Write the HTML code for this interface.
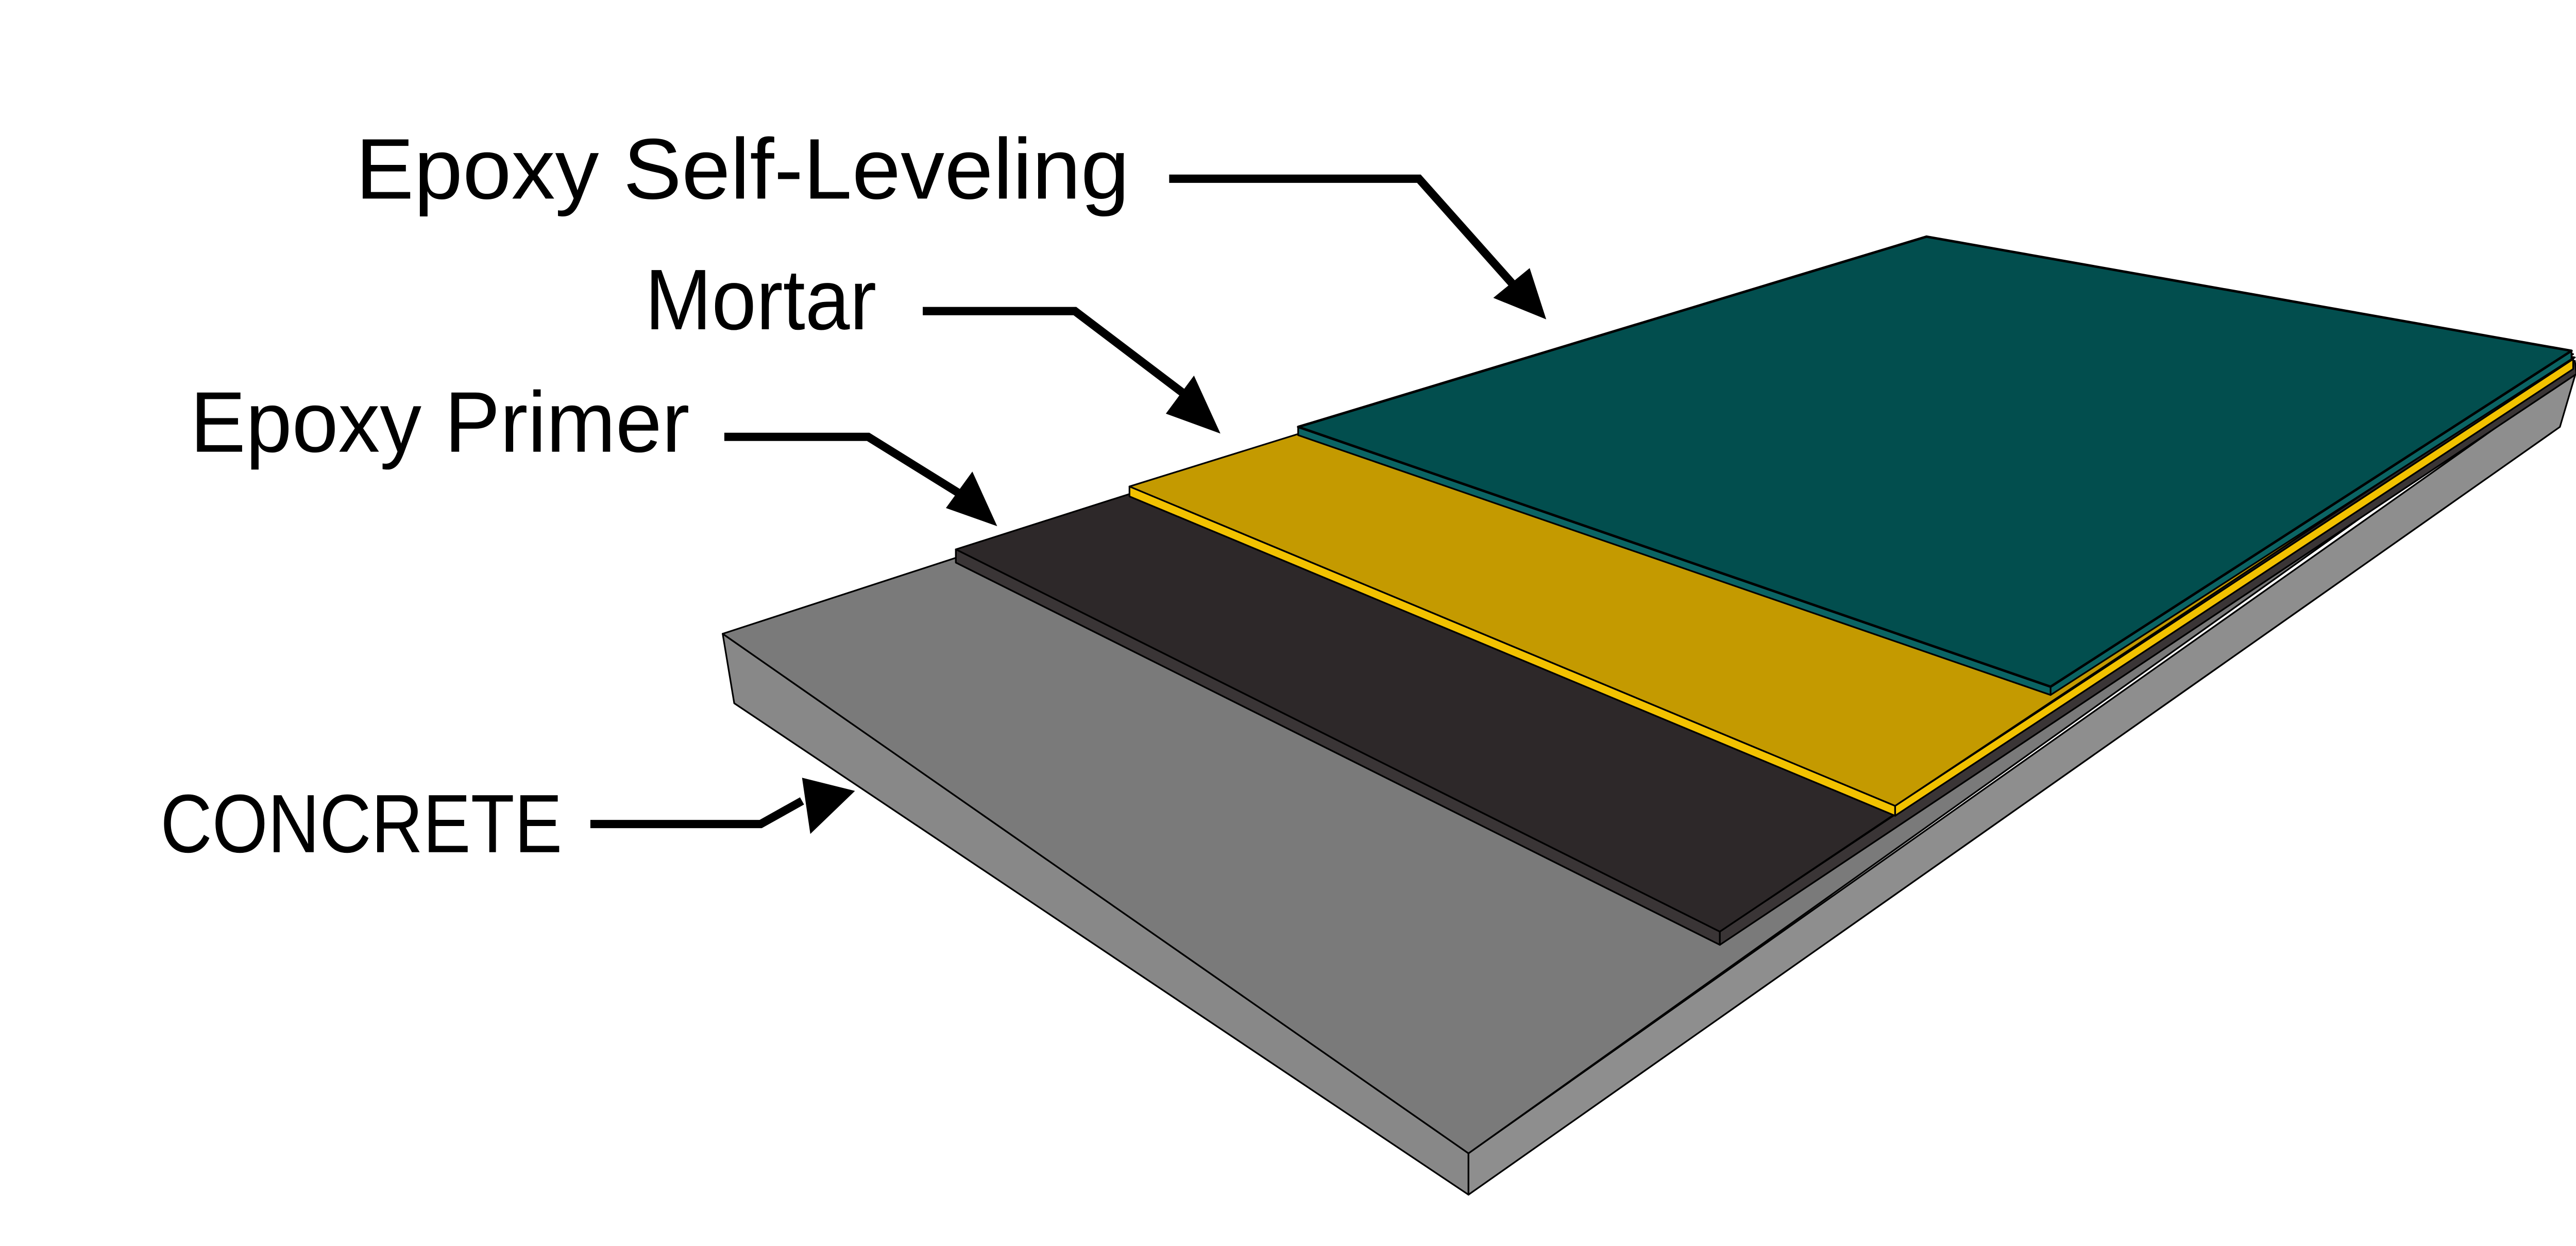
<!DOCTYPE html>
<html><head><meta charset="utf-8"><style>
html,body{margin:0;padding:0;background:#fff;}
svg{display:block;}
text{font-family:"Liberation Sans",sans-serif;fill:#000;}
</style></head><body>
<svg width="5033" height="2418" viewBox="0 0 1568 753" preserveAspectRatio="none" xmlns="http://www.w3.org/2000/svg">
<rect width="1568" height="753" fill="#fff"/>
<g stroke="#000" stroke-width="1" stroke-linejoin="round">
<!-- concrete -->
<polygon points="437,383 888,697 888,722 444,425" fill="#888888"/>
<polygon points="888,697 1558,224 1548,258 888,722" fill="#8e8e8e"/>
<polygon points="437,383 1165,146 1558,220 888,697" fill="#7a7a7a"/>
<!-- black primer -->
<polygon points="578,332 1040,563 1040,571 578,340" fill="#3a3536"/>
<polygon points="1040,563 1557,218 1558,226 1040,571" fill="#3a3536"/>
<polygon points="578,332 1165,145 1557,216 1040,563" fill="#2d2829"/>
<!-- yellow mortar -->
<polygon points="683,294 1146,487 1146,493 683,300" fill="#f2c200"/>
<polygon points="1146,487 1556,217 1556,223 1146,493" fill="#f2c200"/>
<polygon points="683,294 1165,144 1556,214 1146,487" fill="#c49a00"/>
<!-- green -->
<polygon points="785,258 1240,415 1240,420 785,263" fill="#0b6464"/>
<polygon points="1240,415 1555,212 1555,217 1240,420" fill="#0b6464"/>
<polygon points="785,258 1165,143 1555,212 1240,415" fill="#024e4e" stroke-width="1.5"/>
</g>
<!-- arrows -->
<g fill="none" stroke="#000" stroke-width="5" stroke-linejoin="miter">
<polyline points="707,108 858,108 915,172"/>
<polyline points="558,188 650,188 716,238"/>
<polyline points="438,264 525,264 583,300"/>
<polyline points="357,498 460,498 485,484"/>
</g>
<g fill="#000">
<polygon points="935,193 903,180 925,162"/>
<polygon points="738,262 705,250 722,227"/>
<polygon points="603,318 572,307 588,285"/>
<polygon points="517,478 485,470 490,504"/>
</g>
<!-- labels -->
<text x="215" y="120" font-size="52" textLength="468" lengthAdjust="spacingAndGlyphs">Epoxy Self-Leveling</text>
<text x="390" y="199" font-size="52" textLength="140" lengthAdjust="spacingAndGlyphs">Mortar</text>
<text x="115" y="273" font-size="52" textLength="302" lengthAdjust="spacingAndGlyphs">Epoxy Primer</text>
<text x="97" y="515" font-size="50" textLength="243" lengthAdjust="spacingAndGlyphs">CONCRETE</text>
</svg>
</body></html>
